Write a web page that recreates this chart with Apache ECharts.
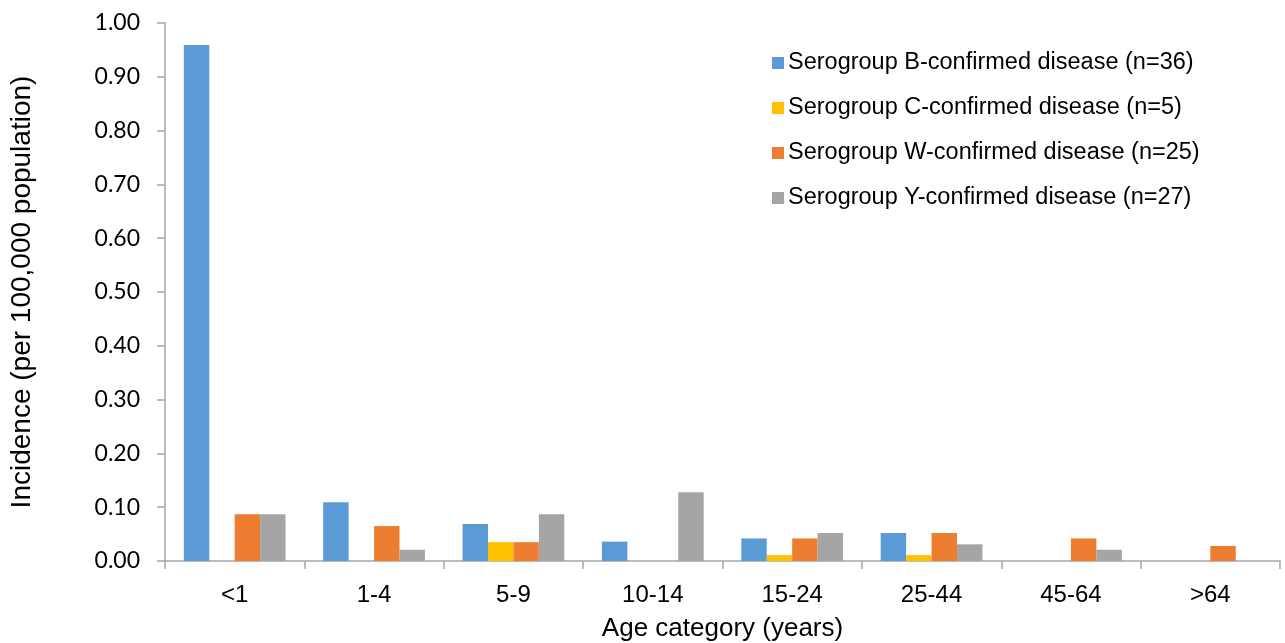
<!DOCTYPE html>
<html>
<head>
<meta charset="utf-8">
<script src="https://cdn.jsdelivr.net/npm/echarts@6/dist/echarts.min.js"></script>
<style>
  html, body { margin: 0; padding: 0; background: #fff; }
  #draw-main { width: 1285px; height: 643px; }
</style>
</head>
<body>
<div id="draw-main"></div>
<script>
let categories = ['<1', '1-4', '5-9', '10-14', '15-24', '25-44', '45-64', '>64'];
let yTicks = [0, 0.1, 0.2, 0.3, 0.4, 0.5, 0.6, 0.7, 0.8, 0.9, 1.0];

let serogroupB = [0.959, 0.109, 0.069, 0.036, 0.042, 0.052, 0, 0];
let serogroupC = [0, 0, 0.035, 0, 0.011, 0.011, 0, 0];
let serogroupW = [0.087, 0.065, 0.035, 0, 0.042, 0.052, 0.042, 0.028];
let serogroupY = [0.087, 0.021, 0.087, 0.128, 0.052, 0.031, 0.021, 0];

let seriesNames = [
    'Serogroup B-confirmed disease (n=36)',
    'Serogroup C-confirmed disease (n=5)',
    'Serogroup W-confirmed disease (n=25)',
    'Serogroup Y-confirmed disease (n=27)'
];
let colors = ['#5B9BD5', '#FFC000', '#ED7D31', '#A5A5A5'];

let chart = {
    init: function () {
        this.draw();
    },
    draw: function () {
        let myChart = echarts.init(document.getElementById('draw-main'));
        let values = [serogroupB, serogroupC, serogroupW, serogroupY];

        let option = {
            animation: false,
            color: colors,
            grid: {
                left: 165,
                right: 5,
                top: 23,
                bottom: 82,
                outerBoundsMode: 'none'
            },
            legend: {
                orient: 'vertical',
                left: 767,
                top: 46,
                itemWidth: 12,
                itemHeight: 12,
                itemGap: 21,
                icon: 'rect',
                textStyle: {
                    fontFamily: 'Liberation Sans',
                    fontSize: 23.5,
                    lineHeight: 23,
                    color: '#000',
                    padding: [0, 0, 0, -1]
                },
                data: seriesNames
            },
            xAxis: {
                type: 'category',
                data: categories,
                name: 'Age category (years)',
                nameLocation: 'middle',
                nameGap: 55,
                nameTextStyle: {
                    fontFamily: 'Liberation Sans',
                    fontSize: 26,
                    color: '#000'
                },
                axisLine: { lineStyle: { color: '#A6A6A6', width: 1.5 } },
                axisTick: { show: true, length: 8, lineStyle: { color: '#A6A6A6', width: 1.5 } },
                axisLabel: {
                    margin: 22,
                    fontFamily: 'Liberation Sans',
                    fontSize: 24,
                    color: '#000'
                }
            },
            yAxis: {
                type: 'value',
                min: yTicks[0],
                max: yTicks[yTicks.length - 1],
                interval: 0.1,
                name: 'Incidence (per 100,000 population)',
                nameLocation: 'middle',
                nameGap: 129,
                nameTextStyle: {
                    fontFamily: 'Liberation Sans',
                    fontSize: 28,
                    color: '#000'
                },
                axisLine: { show: true, lineStyle: { color: '#A6A6A6', width: 1.5 } },
                axisTick: { show: true, length: 8, lineStyle: { color: '#A6A6A6', width: 1.5 } },
                splitLine: { show: false },
                axisLabel: {
                    margin: 25,
                    fontFamily: 'Lato',
                    fontSize: 23,
                    color: '#000',
                    formatter: function (v) { return v.toFixed(2); }
                }
            },
            series: values.map(function (arr, i) {
                return {
                    name: seriesNames[i],
                    type: 'bar',
                    data: arr,
                    barGap: '0%',
                    barCategoryGap: '27%',
                    itemStyle: { color: colors[i] }
                };
            })
        };

        myChart.setOption(option, true);
    }
};

chart.init();
</script>
</body>
</html>
